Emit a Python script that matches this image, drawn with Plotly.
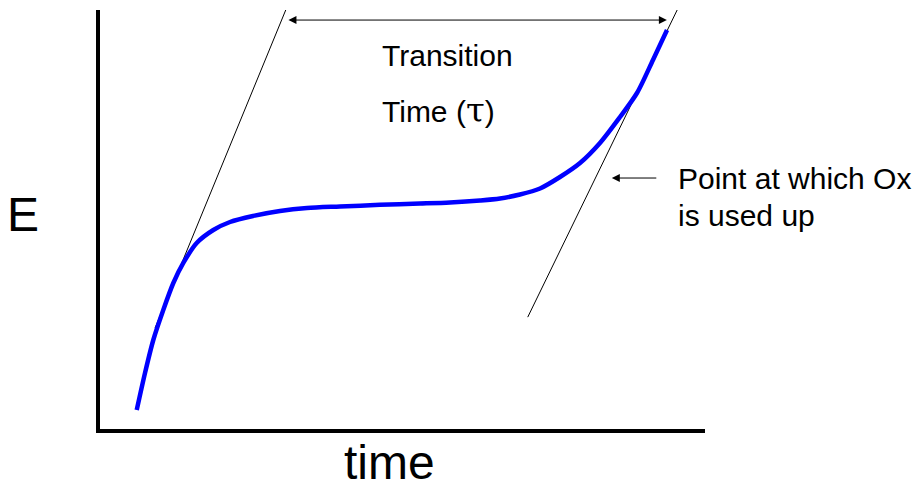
import plotly.graph_objects as go

# Chronopotentiometry curve (E vs time), arbitrary units 0-100
time_vals = [6.07, 7.44, 8.81, 10.46, 12.12, 13.77, 15.98, 18.73, 21.49, 25.29, 29.75,
             34.21, 39.67, 46.28, 52.89, 57.85, 62.81, 66.12, 69.42, 72.73, 76.03,
             79.34, 82.64, 85.95, 88.76, 91.40, 93.72]
e_vals = [4.53, 13.37, 21.24, 28.40, 34.84, 39.62, 44.39, 47.49, 49.40, 50.84, 52.03,
          52.74, 53.10, 53.50, 53.80, 54.06, 54.53, 55.01, 55.97, 57.40, 60.14,
          63.48, 68.26, 74.46, 80.19, 88.07, 95.23]

# tangent lines
tan_left_t = [9.1, 30.7]
tan_left_e = [24.1, 100.0]
tan_right_t = [70.7, 95.4]
tan_right_e = [26.7, 100.0]

# transition-time double arrow and "used up" pointer
tau_start_t, tau_end_t, tau_e = 30.9, 93.7, 97.6
ptr_from_t, ptr_to_t, ptr_e = 92.2, 84.6, 59.9

FONT = "Liberation Sans, Arial, sans-serif"

W, H = 920, 489
l, r, t, b = 100, 215, 10, 60
PW, PH = W - l - r, H - t - b


def px_x(px):
    return (px - l) / PW


def px_y(py):
    return (H - b - py) / PH


fig = go.Figure()
fig.add_trace(go.Scatter(x=tan_left_t, y=tan_left_e, mode="lines",
                         line=dict(color="black", width=1), hoverinfo="skip"))
fig.add_trace(go.Scatter(x=tan_right_t, y=tan_right_e, mode="lines",
                         line=dict(color="black", width=1), hoverinfo="skip"))
fig.add_trace(go.Scatter(x=time_vals, y=e_vals, mode="lines",
                         line=dict(color="#0000FF", width=4.5, shape="spline", smoothing=0.8)))


def label(px, py, text, size=30, anchor="left"):
    return dict(x=px_x(px), y=px_y(py), xref="paper", yref="paper", text=text,
                showarrow=False, xanchor=anchor, yanchor="middle", borderpad=0,
                font=dict(family=FONT, size=size, color="black"))


annotations = [
    dict(x=tau_end_t, y=tau_e, ax=tau_start_t, ay=tau_e, xref="x", yref="y",
         axref="x", ayref="y", text="", showarrow=True, arrowhead=2,
         arrowside="end+start", arrowsize=1.6, arrowwidth=1, arrowcolor="black"),
    dict(x=ptr_to_t, y=ptr_e, ax=ptr_from_t, ay=ptr_e, xref="x", yref="y",
         axref="x", ayref="y", text="", showarrow=True, arrowhead=2,
         arrowsize=1.6, arrowwidth=1, arrowcolor="black"),
    label(381, 55, "Transition"),
    label(381, 110, "Time (<span style='font-family:DejaVu Serif;font-size:34px'>τ</span>)"),
    label(677, 178, "Point at which Ox"),
    label(677, 215, "is used up"),
    label(6, 214, "E", size=48),
    label(389, 462, "time", size=48, anchor="center"),
]

fig.update_layout(
    width=W, height=H,
    margin=dict(l=l, r=r, t=t, b=b, autoexpand=False),
    paper_bgcolor="white", plot_bgcolor="white",
    showlegend=False,
    xaxis=dict(range=[0, 100], showline=True, linewidth=4, linecolor="black",
               showgrid=False, zeroline=False, showticklabels=False, ticks=""),
    yaxis=dict(range=[0, 100], showline=True, linewidth=4, linecolor="black",
               showgrid=False, zeroline=False, showticklabels=False, ticks=""),
    annotations=annotations,
)

fig.write_html("out.html", config={"displayModeBar": False},
               post_script="document.body.style.margin='0';document.body.style.overflow='hidden';")
